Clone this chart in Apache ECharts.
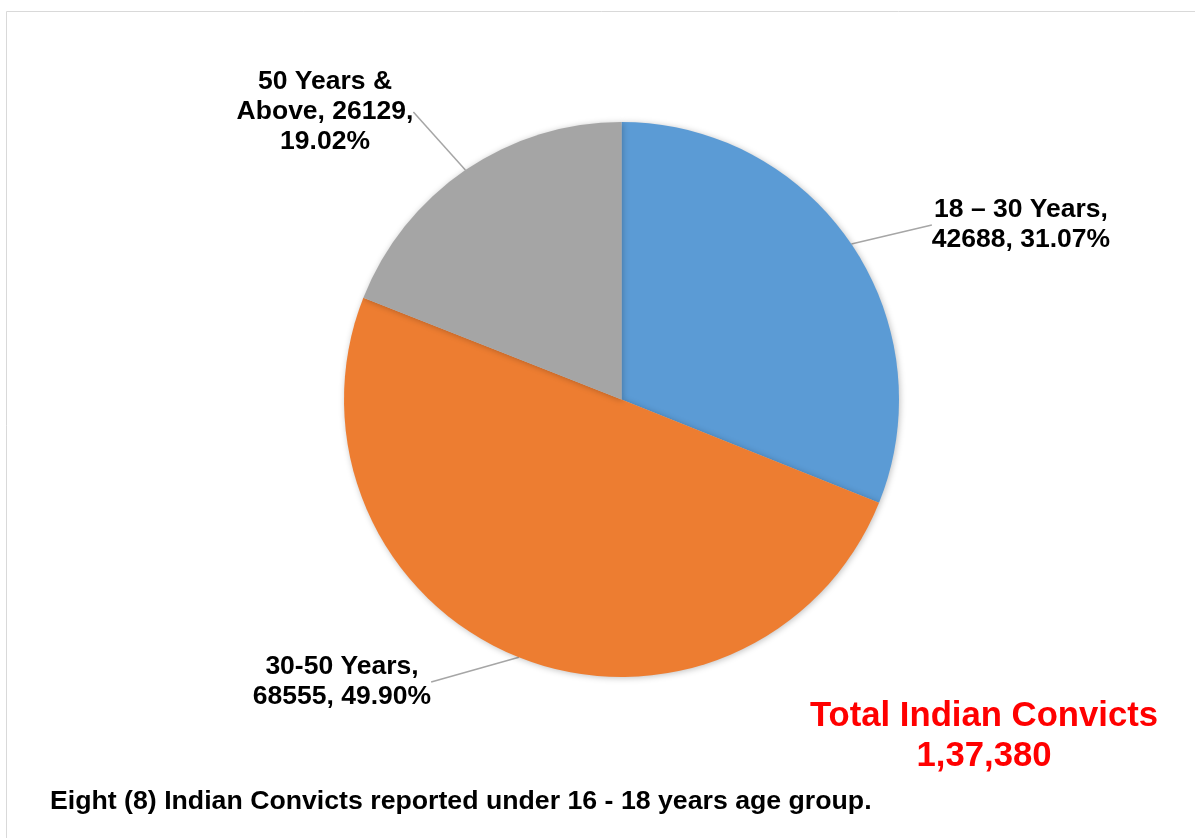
<!DOCTYPE html>
<html>
<head>
<meta charset="utf-8">
<script src="https://cdn.jsdelivr.net/npm/echarts@6/dist/echarts.min.js"></script>
<style>
html,body{margin:0;padding:0;background:#fff;}
#c{width:1195px;height:838px;}
</style>
</head>
<body>
<div id="c"></div>
<script>
// Data
const categories = ['18 – 30 Years', '30-50 Years', '50 Years & Above'];
const values = [42688, 68555, 26129];
const colors = ['#5B9BD5', '#ED7D31', '#A5A5A5'];
const totalText = ['Total Indian Convicts', '1,37,380'];
const noteText = 'Eight (8) Indian Convicts reported under 16 - 18 years age group.';

const sum = values.reduce((a, b) => a + b, 0);

// label placement (center of text block)
const labelPos = [
  {x: 1021, y: 225},
  {x: 342, y: 682},
  {x: 325, y: 112}
];

function fmt(p) {
  const pct = (p.value / sum * 100).toFixed(2);
  if (p.dataIndex === 2) return '50 Years &\nAbove, ' + p.value + ',\n' + pct + '%';
  return p.name + ',\n' + p.value + ', ' + pct + '%';
}

const chart = echarts.init(document.getElementById('c'), null, {renderer: 'canvas'});
chart.setOption({
  backgroundColor: '#fff',
  animation: false,
  graphic: [
    {type: 'rect', shape: {x: 6.5, y: 11.5, width: 1400, height: 1000}, style: {fill: 'none', stroke: '#D9D9D9', lineWidth: 1}, z: -10},
    {type: 'text', style: {text: totalText.join('\n'), x: 984, y: 736, align: 'center', verticalAlign: 'middle', fill: '#FF0000', font: 'bold 34.7px "Liberation Sans", Arial, sans-serif', lineHeight: 40}},
    {type: 'text', style: {text: noteText, x: 50, y: 802, align: 'left', verticalAlign: 'middle', fill: '#000', font: 'bold 26.7px "Liberation Sans", Arial, sans-serif'}}
  ],
  series: [{
    type: 'pie',
    center: [621.5, 399.5],
    radius: 277.5,
    startAngle: 90,
    clockwise: true,
    data: categories.map((n, i) => ({name: n, value: values[i], itemStyle: {color: colors[i]}})),
    itemStyle: {shadowBlur: 6, shadowColor: 'rgba(0,0,0,0.25)', shadowOffsetX: 1, shadowOffsetY: 1},
    label: {
      show: true,
      formatter: fmt,
      fontFamily: '"Liberation Sans", Arial, sans-serif',
      fontWeight: 'bold',
      fontSize: 26.5,
      lineHeight: 30,
      color: '#000',
      align: 'center'
    },
    labelLine: {show: true, length: 8, length2: 0, lineStyle: {color: '#A6A6A6', width: 1.5}},
    labelLayout: function (p) {
      const lp = labelPos[p.dataIndex];
      return {x: lp.x, y: lp.y, align: 'center', verticalAlign: 'middle'};
    },
    emphasis: {disabled: true}
  }]
});
</script>
</body>
</html>
